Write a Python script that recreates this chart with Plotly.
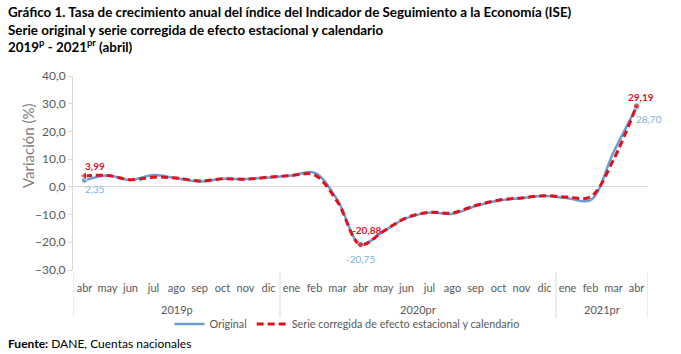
import plotly.graph_objects as go

years = ["2019p"] * 9 + ["2020pr"] * 12 + ["2021pr"] * 4
months = ["abr", "may", "jun", "jul", "ago", "sep", "oct", "nov", "dic",
          "ene", "feb", "mar", "abr", "may", "jun", "jul", "ago", "sep", "oct", "nov", "dic",
          "ene", "feb", "mar", "abr"]
original = [2.35, 4.1, 2.5, 4.3, 3.1, 1.9, 2.9, 2.8, 3.4,
            4.1, 5.1, -4.8, -20.75, -16.0, -11.3, -9.3, -9.7, -6.9, -4.9, -4.1, -3.3,
            -4.1, -4.8, 12.5, 28.70]
corregida = [3.99, 4.1, 2.6, 3.5, 3.2, 2.1, 2.9, 2.8, 3.5,
             4.1, 4.3, -5.4, -20.88, -16.0, -11.1, -9.2, -9.4, -6.7, -4.8, -4.0, -3.2,
             -3.7, -3.6, 9.8, 29.19]
title_lines = [
    "<b>Gráfico 1. Tasa de crecimiento anual del índice del Indicador de Seguimiento a la Economía (ISE)</b>",
    "<b>Serie original y serie corregida de efecto estacional y calendario</b>",
    "<b>2019<sup>p</sup> - 2021<sup>pr</sup> (abril)</b>",
]
lab_ids = [0, 12, 24]

BLUE = "#6A9FD6"
RED = "#E3101C"
GREY = "#595959"
keys = [f"{y}-{m}" for y, m in zip(years, months)]

L, R, T, B = 73, 33, 76, 84
W, H = 681, 354
PH = H - T - B
def py(p):
    return (H - B - p) / PH
def px(p):
    return (p - L) / (W - L - R)

fig = go.Figure()
fig.add_trace(go.Scatter(x=keys, y=original, mode="lines", name="Original",
                         line=dict(color=BLUE, width=2.5, shape="spline", smoothing=1)))
fig.add_trace(go.Scatter(x=keys, y=corregida, mode="lines",
                         name="Serie corregida de efecto estacional y calendario",
                         line=dict(color=RED, width=3, dash="7px,4px", shape="spline", smoothing=1)))

def fmt(v):
    return f"{v:.2f}".replace(".", ",")

fig.add_trace(go.Scatter(x=[keys[i] for i in lab_ids], y=[original[i] for i in lab_ids],
                         mode="markers", showlegend=False, cliponaxis=False,
                         marker=dict(color=BLUE, size=5)))
fig.add_trace(go.Scatter(x=[keys[i] for i in lab_ids], y=[corregida[i] for i in lab_ids],
                         mode="markers", showlegend=False, cliponaxis=False,
                         marker=dict(color=RED, size=[8, 6, 6],
                                     symbol=["triangle-left", "circle", "circle"])))

annotations = []
blue_shift = [(10, -9), (0, -15), (12, -12)]
red_shift = [(10, 10), (6, 15), (4, 9)]
for i, (bs, rs) in zip(lab_ids, zip(blue_shift, red_shift)):
    annotations.append(dict(text=fmt(original[i]), x=keys[i], y=original[i], xref="x", yref="y",
                            xshift=bs[0], yshift=bs[1], showarrow=False,
                            font=dict(size=10, color="#7BAFDD", family="Lato")))
    annotations.append(dict(text="<b>" + fmt(corregida[i]) + "</b>", x=keys[i], y=corregida[i],
                            xref="x", yref="y", xshift=rs[0], yshift=rs[1], showarrow=False,
                            font=dict(size=10, color=RED, family="Lato")))

for line, yc in zip(title_lines, [12, 30, 46]):
    annotations.append(dict(text=line, xref="paper", yref="paper", x=px(6),
                            y=py(yc), xanchor="left", yanchor="middle", showarrow=False,
                            font=dict(size=13.4, color="black", family="Lato")))
annotations.append(dict(text="<b>Fuente:</b> DANE, Cuentas nacionales", xref="paper", yref="paper",
                        x=px(6), y=py(343), xanchor="left", yanchor="middle", showarrow=False,
                        font=dict(size=12, color="black", family="Lato")))
annotations.append(dict(text="Variación (%)", xref="paper", yref="paper", x=px(28), y=py(146),
                        xanchor="center", yanchor="middle", textangle=-90, showarrow=False,
                        font=dict(size=15, color="#7F7F7F", family="Lato")))

groups = []
for i, y in enumerate(years):
    if not groups or groups[-1][0] != y:
        groups.append([y, i, i])
    else:
        groups[-1][2] = i
shapes = []
for g, i0, i1 in groups:
    annotations.append(dict(text=g, xref="x", yref="paper", x=(i0 + i1) / 2, y=py(309),
                            xanchor="center", yanchor="middle", showarrow=False,
                            font=dict(size=11, color=GREY, family="Lato")))
bounds = [groups[0][1] - 0.5] + [g[2] + 0.5 for g in groups]
for b in bounds:
    shapes.append(dict(type="line", xref="x", yref="paper", x0=b, x1=b, y0=py(272), y1=py(318),
                       line=dict(color="#D9D9D9", width=1)))

fig.update_layout(
    width=W, height=H,
    margin=dict(l=L, r=R, t=T, b=B),
    paper_bgcolor="white", plot_bgcolor="white",
    separators=",.",
    font=dict(family="Lato", color=GREY),
    showlegend=True,
    legend=dict(orientation="h", x=px(347), xanchor="center", y=py(324), yanchor="middle",
                font=dict(size=10.8, color=GREY), tracegroupgap=0, bgcolor="rgba(0,0,0,0)"),
    xaxis=dict(type="category", showgrid=False, ticks="outside", ticklen=8,
               tickcolor="rgba(0,0,0,0)", showline=False, zeroline=False,
               tickvals=keys, ticktext=months, tickangle=0, range=[-0.5, len(keys) - 0.5],
               tickfont=dict(size=11, color=GREY)),
    yaxis=dict(range=[-30, 40], dtick=10, tickformat=".1f", showgrid=False,
               showline=True, linecolor="#D9D9D9", ticks="outside", ticklen=4,
               tickcolor="#D9D9D9", zeroline=True, zerolinecolor="#D9D9D9", zerolinewidth=1,
               tickfont=dict(size=12, color=GREY)),
    annotations=annotations,
    shapes=shapes,
)
fig.write_html("out.html")
